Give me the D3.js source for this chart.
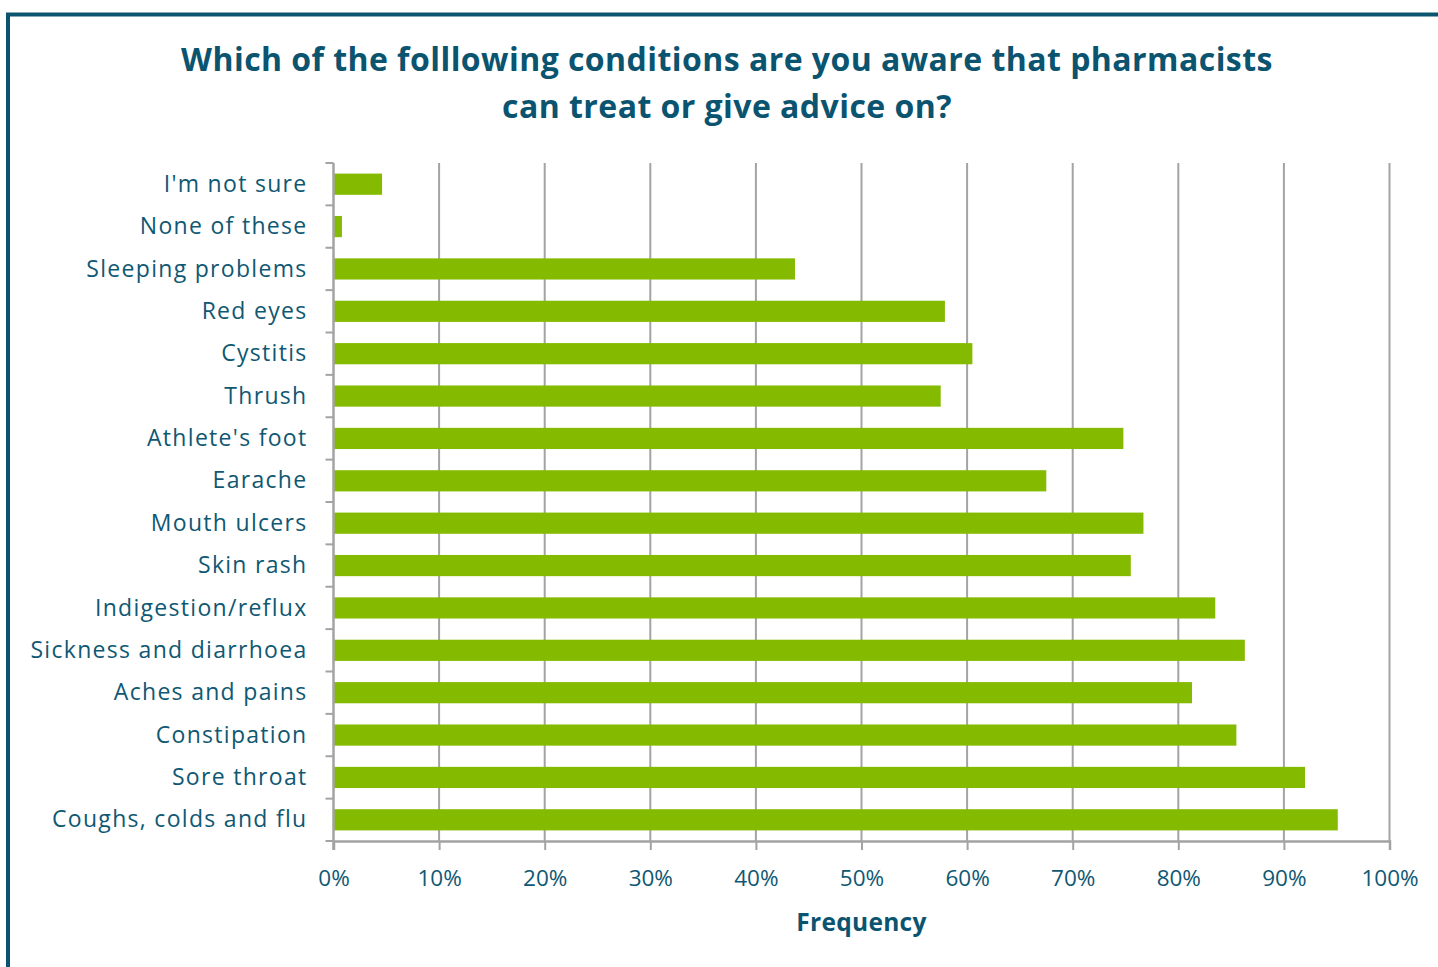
<!DOCTYPE html>
<html>
<head>
<meta charset="utf-8">
<script src="https://cdn.jsdelivr.net/npm/d3@7"></script>
<style>
  html, body { margin: 0; padding: 0; background: #ffffff; }
  svg { display: block; }
  text { font-family: "Open Sans", "Noto Sans", sans-serif; }
</style>
</head>
<body>
<svg id="chart" width="1438" height="967"></svg>
<script>
// Survey responses, top to bottom
const categories = [
  "I'm not sure",
  "None of these",
  "Sleeping problems",
  "Red eyes",
  "Cystitis",
  "Thrush",
  "Athlete's foot",
  "Earache",
  "Mouth ulcers",
  "Skin rash",
  "Indigestion/reflux",
  "Sickness and diarrhoea",
  "Aches and pains",
  "Constipation",
  "Sore throat",
  "Coughs, colds and flu"
];
// Share of respondents (%)
const values = [4.6, 0.8, 43.7, 57.9, 60.5, 57.5, 74.8, 67.5, 76.7, 75.5, 83.5, 86.3, 81.3, 85.5, 92.0, 95.1];
const xTicks = [0, 10, 20, 30, 40, 50, 60, 70, 80, 90, 100];
const titleLines = [
  "Which of the folllowing conditions are you aware that pharmacists",
  "can treat or give advice on?"
];
const xAxisTitle = "Frequency";

const teal = "#0b5470";
const labelColor = "#0f5873";
const barColor = "#84bb00";
const gridColor = "#a3a3a3";

const svg = d3.select("#chart");

// Frame (left and top edges)
svg.append("path")
  .attr("d", "M8,967 L8,14.5 L1438,14.5")
  .attr("fill", "none")
  .attr("stroke", teal)
  .attr("stroke-width", 4);

const margin = { left: 333.5, right: 1389.5, top: 163, bottom: 841 };

const x = d3.scaleLinear().domain([0, 100]).range([margin.left, margin.right]);
const y = d3.scaleBand().domain(categories).range([margin.top, margin.bottom]).paddingInner(0.5).paddingOuter(0.25);

// Title
const title = svg.append("text")
  .attr("text-anchor", "middle")
  .attr("fill", teal)
  .attr("font-weight", 700)
  .attr("font-size", 32)
  .attr("letter-spacing", 0.45);
titleLines.forEach((t, i) => {
  title.append("tspan").attr("x", 727).attr("y", 71 + i * 47).text(t);
});

// Vertical gridlines
svg.append("g")
  .selectAll("line")
  .data(xTicks.slice(1))
  .join("line")
  .attr("x1", d => x(d)).attr("x2", d => x(d))
  .attr("y1", margin.top).attr("y2", margin.bottom)
  .attr("stroke", gridColor).attr("stroke-width", 2);

// Bars
svg.append("g")
  .selectAll("rect")
  .data(categories)
  .join("rect")
  .attr("x", x(0))
  .attr("y", d => y(d))
  .attr("width", (d, i) => x(values[i]) - x(0))
  .attr("height", y.bandwidth())
  .attr("fill", barColor);

// X axis
const xAxis = d3.axisBottom(x)
  .tickValues(xTicks)
  .tickFormat(d => d + "%")
  .tickSize(9)
  .tickPadding(20);
const gx = svg.append("g")
  .attr("transform", `translate(0,${margin.bottom})`)
  .call(xAxis);
gx.select(".domain").attr("stroke", gridColor).attr("stroke-width", 2.5);
gx.selectAll(".tick line").attr("stroke", gridColor).attr("stroke-width", 2);
gx.selectAll(".tick text")
  .attr("fill", labelColor)
  .attr("font-size", 22.5)
  .attr("font-family", '"Open Sans", sans-serif');

// Y axis: ticks at band boundaries, labels at band centres
const boundaries = d3.range(categories.length + 1).map(i => margin.top + i * (margin.bottom - margin.top) / categories.length);
const gy = svg.append("g");
gy.append("line")
  .attr("x1", x(0)).attr("x2", x(0))
  .attr("y1", margin.top).attr("y2", margin.bottom + 9)
  .attr("stroke", gridColor).attr("stroke-width", 2.5);
gy.selectAll("line.tk")
  .data(boundaries)
  .join("line")
  .attr("class", "tk")
  .attr("x1", x(0) - 8).attr("x2", x(0))
  .attr("y1", d => d).attr("y2", d => d)
  .attr("stroke", gridColor).attr("stroke-width", 2);
gy.selectAll("text")
  .data(categories)
  .join("text")
  .attr("x", 307.5)
  .attr("y", d => y(d) + y.bandwidth() / 2)
  .attr("dy", "0.33em")
  .attr("text-anchor", "end")
  .attr("fill", labelColor)
  .attr("font-size", 23)
  .attr("letter-spacing", 1.3)
  .text(d => d);

// Axis title
svg.append("text")
  .attr("x", (margin.left + margin.right) / 2)
  .attr("y", 931)
  .attr("text-anchor", "middle")
  .attr("fill", teal)
  .attr("font-weight", 700)
  .attr("font-size", 24.5)
  .attr("letter-spacing", 0.3)
  .text(xAxisTitle);
</script>
</body>
</html>
